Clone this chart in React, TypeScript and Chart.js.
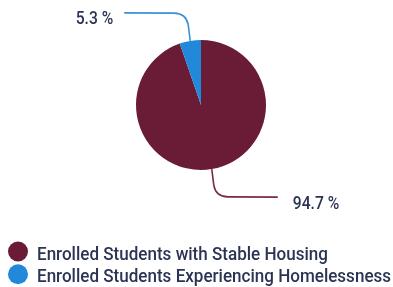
import React, { useEffect, useRef } from "react";
import { Chart, registerables } from "chart.js";

Chart.register(...registerables);

const categories = [
  "Enrolled Students with Stable Housing",
  "Enrolled Students Experiencing Homelessness",
];
const values = [94.7, 5.3];
const valueLabels = ["94.7 %", "5.3 %"];
const sliceColors = ["#6a1b36", "#2188da"];
const leaderColors = ["#7a2b4b", "#3b91d9"];

const TEXT_COLOR = "#2b3454";
const FONT = "Roboto, 'Liberation Sans', sans-serif";

function drawText(ctx: CanvasRenderingContext2D, text: string, x: number, y: number, size: number, align: CanvasTextAlign, condense: number) {
  ctx.save();
  ctx.font = `500 ${size}px ${FONT}`;
  ctx.fillStyle = TEXT_COLOR;
  ctx.translate(x, y);
  ctx.scale(condense, 1);
  ctx.textAlign = align;
  ctx.textBaseline = "alphabetic";
  ctx.fillText(text, 0, 0);
  ctx.restore();
}

const annotatePlugin = {
  id: "annotate",
  afterDraw(chart: any) {
    const ctx: CanvasRenderingContext2D = chart.ctx;
    const meta = chart.getDatasetMeta(0);
    meta.data.forEach((arc: any, i: number) => {
      const p = arc.getProps(["x", "y", "startAngle", "endAngle", "outerRadius"], true);
      const mid = (p.startAngle + p.endAngle) / 2;
      const ax = p.x + Math.cos(mid) * p.outerRadius;
      const ay = p.y + Math.sin(mid) * p.outerRadius;
      const down = Math.sin(mid) > 0;
      const dir = down ? 1 : -1;
      const side = down ? 1 : -1;
      ctx.save();
      ctx.strokeStyle = leaderColors[i];
      ctx.lineWidth = 1.6;
      ctx.beginPath();
      ctx.moveTo(ax, ay);
      ctx.lineTo(ax + side * 2, ay + dir * 16);
      ctx.quadraticCurveTo(ax + side * 4, ay + dir * 27.5, ax + side * 16, ay + dir * 27.8);
      ctx.lineTo(ax + side * 66, ay + dir * 28);
      ctx.stroke();
      ctx.restore();
      const ly = ay + dir * 28 + 11.5;
      if (side > 0) {
        drawText(ctx, valueLabels[i], ax + side * 81, ly, 18, "left", 0.87);
      } else {
        drawText(ctx, valueLabels[i], ax + side * 77, ly, 18, "right", 0.87);
      }
    });

    categories.forEach((label, i) => {
      const cy = 251.5 + 22.8 * i;
      ctx.save();
      ctx.fillStyle = sliceColors[i];
      ctx.beginPath();
      ctx.arc(18, cy, 10, 0, Math.PI * 2);
      ctx.fill();
      ctx.restore();
      drawText(ctx, label, 37, cy + 8, 19, "left", 0.897);
    });
  },
};

export default function App() {
  const ref = useRef<HTMLCanvasElement | null>(null);
  useEffect(() => {
    document.body.style.margin = "0";
    if (!ref.current) return;
    const chart = new Chart(ref.current, {
      type: "pie",
      data: {
        labels: categories,
        datasets: [
          {
            data: values,
            backgroundColor: sliceColors,
            borderWidth: 0,
          },
        ],
      },
      options: {
        animation: false,
        responsive: true,
        maintainAspectRatio: false,
        layout: { padding: { left: 136, right: 127, top: 40, bottom: 117 } },
        plugins: {
          legend: { display: false },
          tooltip: { enabled: false },
        },
      },
      plugins: [annotatePlugin],
    });
    return () => chart.destroy();
  }, []);
  return (
    <div style={{ width: 393, height: 287, position: "relative", background: "#fff" }}>
      <canvas ref={ref} />
    </div>
  );
}
